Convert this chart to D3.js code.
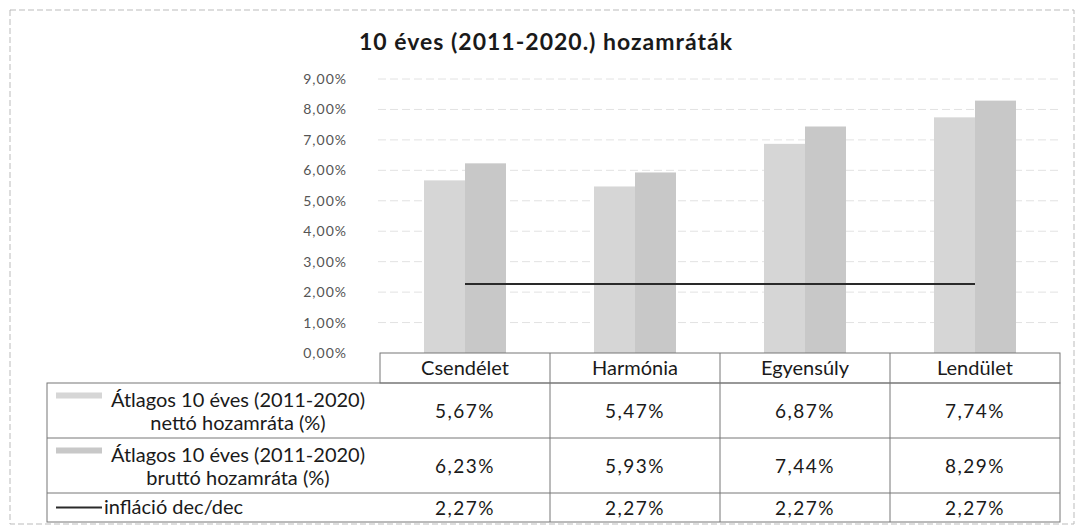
<!DOCTYPE html>
<html>
<head>
<meta charset="utf-8">
<script src="https://cdn.jsdelivr.net/npm/d3@7"></script>
<style>
  body { margin: 0; background: #fff; }
  svg { display: block; font-family: Lato, "Open Sans", sans-serif; }
</style>
</head>
<body>
<svg width="1078" height="528"></svg>
<script>
var categories = ["Csendélet", "Harmónia", "Egyensúly", "Lendület"];
var netto = [5.67, 5.47, 6.87, 7.74];
var brutto = [6.23, 5.93, 7.44, 8.29];
var inflacio = [2.27, 2.27, 2.27, 2.27];
var yTicks = [0, 1, 2, 3, 4, 5, 6, 7, 8, 9];
var rowLabels = [
    ["Átlagos 10 éves (2011-2020)", "nettó hozamráta (%)"],
    ["Átlagos 10 éves (2011-2020)", "bruttó hozamráta (%)"],
    ["infláció dec/dec"]
];

var svg = d3.select("svg");
var fmt = function (v) { return v.toFixed(2).replace(".", ",") + "%"; };
var nettoColor = "#d6d6d6", bruttoColor = "#c8c8c8";

// outer frame
svg.append("rect")
    .attr("x", 10).attr("y", 10).attr("width", 1064).attr("height", 514)
    .attr("fill", "none").attr("stroke", "#bbb").attr("stroke-dasharray", "6,3");

svg.append("text")
    .attr("x", 546).attr("y", 50)
    .attr("text-anchor", "middle")
    .attr("font-size", 23).attr("font-weight", "bold").attr("fill", "#1a1a1a")
    .attr("letter-spacing", 1)
    .text("10 éves (2011-2020.) hozamráták");

var x = d3.scaleBand().domain(categories).range([380, 1060]);
var y = d3.scaleLinear().domain([0, 9]).range([353, 79]);

// gridlines
svg.append("g").selectAll("line").data(yTicks.slice(1)).join("line")
    .attr("x1", 378).attr("x2", 1058)
    .attr("y1", function (d) { return y(d); }).attr("y2", function (d) { return y(d); })
    .attr("stroke", "#e2e2e2").attr("stroke-dasharray", "8,4");

// y axis
var yAxis = svg.append("g")
    .attr("transform", "translate(350,0)")
    .call(d3.axisLeft(y).tickValues(yTicks).tickSize(0).tickPadding(3).tickFormat(function (d) { return fmt(d); }));
yAxis.select(".domain").remove();
yAxis.selectAll("text").attr("font-size", 14).attr("fill", "#555")
    .attr("letter-spacing", 1).attr("font-family", "Lato, sans-serif");

// bars
var barW = 41;
svg.append("g").selectAll("rect").data(netto).join("rect")
    .attr("x", function (d, i) { return x(categories[i]) + x.bandwidth() / 2 - barW; })
    .attr("y", function (d) { return y(d); })
    .attr("width", barW)
    .attr("height", function (d) { return y(0) - y(d); })
    .attr("fill", nettoColor);
svg.append("g").selectAll("rect").data(brutto).join("rect")
    .attr("x", function (d, i) { return x(categories[i]) + x.bandwidth() / 2; })
    .attr("y", function (d) { return y(d); })
    .attr("width", barW)
    .attr("height", function (d) { return y(0) - y(d); })
    .attr("fill", bruttoColor);

// inflation line
var line = d3.line()
    .x(function (d, i) { return x(categories[i]) + x.bandwidth() / 2; })
    .y(function (d) { return y(d); });
svg.append("path")
    .datum(inflacio)
    .attr("fill", "none").attr("stroke", "#2a2a2a").attr("stroke-width", 2)
    .attr("d", line);

// data table
var rowsY = [353, 383, 438, 493, 522];
var tbl = svg.append("g").attr("stroke", "#777").attr("stroke-width", 1).attr("fill", "none");
tbl.append("rect").attr("x", 380).attr("y", rowsY[0]).attr("width", 680).attr("height", rowsY[1] - rowsY[0]);
tbl.append("rect").attr("x", 47).attr("y", rowsY[1]).attr("width", 1013).attr("height", rowsY[4] - rowsY[1]);
[2, 3].forEach(function (r) {
    tbl.append("line").attr("x1", 47).attr("x2", 1060).attr("y1", rowsY[r]).attr("y2", rowsY[r]);
});
categories.forEach(function (c, i) {
    if (i > 0) tbl.append("line").attr("x1", x(c)).attr("x2", x(c)).attr("y1", rowsY[0]).attr("y2", rowsY[4]);
});

svg.append("g").selectAll("text").data(categories).join("text")
    .attr("x", function (d) { return x(d) + x.bandwidth() / 2; })
    .attr("y", 375)
    .attr("text-anchor", "middle").attr("font-size", 20).attr("fill", "#1a1a1a")
    .text(function (d) { return d; });

var series = [netto, brutto, inflacio];
series.forEach(function (s, r) {
    var cy = (rowsY[r + 1] + rowsY[r + 2]) / 2;
    svg.append("g").selectAll("text").data(s).join("text")
        .attr("x", function (d, i) { return x(categories[i]) + x.bandwidth() / 2; })
        .attr("y", cy + 7)
        .attr("text-anchor", "middle").attr("font-size", 19).attr("fill", "#1a1a1a")
        .attr("letter-spacing", 1.5)
        .text(function (d) { return fmt(d); });
});

// legend keys and row labels
[0, 1].forEach(function (r) {
    var cy = (rowsY[r + 1] + rowsY[r + 2]) / 2;
    svg.append("rect").attr("x", 56).attr("y", cy - 18).attr("width", 46).attr("height", 6)
        .attr("fill", r === 0 ? nettoColor : bruttoColor);
    svg.append("text")
        .attr("text-anchor", "middle").attr("font-size", 20).attr("fill", "#1a1a1a")
        .selectAll("tspan").data(rowLabels[r]).join("tspan")
        .attr("x", 238)
        .attr("y", function (d, k) { return cy - 4 + k * 23; })
        .text(function (d) { return d; });
});
var iy = (rowsY[3] + rowsY[4]) / 2;
svg.append("line").attr("x1", 56).attr("x2", 102).attr("y1", iy).attr("y2", iy)
    .attr("stroke", "#2a2a2a").attr("stroke-width", 2);
svg.append("text").attr("x", 104).attr("y", iy + 6)
    .attr("font-size", 20).attr("fill", "#1a1a1a").text(rowLabels[2][0]);
</script>
</body>
</html>
